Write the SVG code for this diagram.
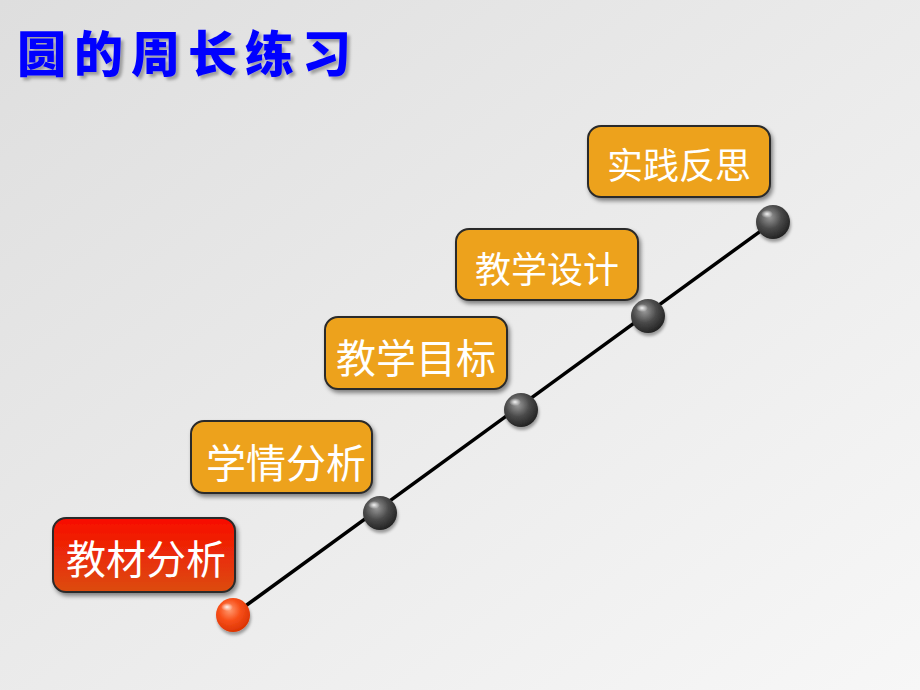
<svg xmlns="http://www.w3.org/2000/svg" width="920" height="690" viewBox="0 0 920 690">
<defs>
<linearGradient id="bg" x1="0" y1="0" x2="1" y2="1">
<stop offset="0" stop-color="#dedede"/>
<stop offset="1" stop-color="#f7f7f7"/>
</linearGradient>
<linearGradient id="red" x1="0" y1="0" x2="0" y2="1">
<stop offset="0" stop-color="#f80c00"/>
<stop offset="1" stop-color="#dc4c10"/>
</linearGradient>
<radialGradient id="gball" cx="0.4" cy="0.35" r="0.7">
<stop offset="0" stop-color="#9a9a9a"/>
<stop offset="0.5" stop-color="#4a4a4a"/>
<stop offset="1" stop-color="#1e1e1e"/>
</radialGradient>
<radialGradient id="oball" cx="0.4" cy="0.35" r="0.7">
<stop offset="0" stop-color="#ff9a70"/>
<stop offset="0.45" stop-color="#f8501a"/>
<stop offset="1" stop-color="#d83000"/>
</radialGradient>
<radialGradient id="hl" cx="0.5" cy="0.5" r="0.5">
<stop offset="0" stop-color="#ffffff" stop-opacity="0.9"/>
<stop offset="1" stop-color="#ffffff" stop-opacity="0"/>
</radialGradient>
<filter id="sh" x="-10%" y="-10%" width="130%" height="140%">
<feDropShadow dx="2" dy="3" stdDeviation="2" flood-color="#000" flood-opacity="0.45"/>
</filter>
<filter id="tsh" x="-5%" y="-10%" width="115%" height="140%">
<feDropShadow dx="3" dy="3" stdDeviation="1.5" flood-color="#000" flood-opacity="0.3"/>
</filter>
<filter id="bsh" x="-30%" y="-30%" width="170%" height="180%">
<feDropShadow dx="1" dy="3" stdDeviation="1.5" flood-color="#000" flood-opacity="0.35"/>
</filter>
</defs>
<style>
.box{stroke:#2a2a2a;stroke-width:2;filter:url(#sh)}
.org{fill:#eda21a}
.lbl{font-family:"Noto Sans CJK SC","Noto Sans",sans-serif;fill:#ffffff;text-anchor:middle;dominant-baseline:central}
.title{font-family:"Noto Sans CJK SC",sans-serif;font-weight:900;fill:#0000ff;font-size:49px;letter-spacing:8px;filter:url(#tsh)}
</style>
<rect width="920" height="690" fill="url(#bg)"/>
<text class="title" x="17" y="72">圆的周长练习</text>
<g id="connectors">
<line x1="233" y1="615" x2="773" y2="222" stroke="#000" stroke-width="3.5"/>
</g>
<g id="n1">
<rect class="box" x="53" y="518" width="182" height="74" rx="13" fill="url(#red)"/>
<text class="lbl" x="146" y="557" font-size="40">教材分析</text>
</g>
<g id="n2">
<rect class="box org" x="191" y="421" width="181" height="72" rx="13"/>
<text class="lbl" x="286" y="461" font-size="40">学情分析</text>
</g>
<g id="n3">
<rect class="box org" x="325" y="317" width="182" height="72" rx="13"/>
<text class="lbl" x="416" y="356" font-size="40">教学目标</text>
</g>
<g id="n4">
<rect class="box org" x="456" y="229" width="182" height="71" rx="13"/>
<text class="lbl" x="547" y="267" font-size="36">教学设计</text>
</g>
<g id="n5">
<rect class="box org" x="588" y="126" width="182" height="71" rx="13"/>
<text class="lbl" x="679" y="163" font-size="36">实践反思</text>
</g>
<g id="b1" filter="url(#bsh)">
<circle cx="233" cy="615" r="17" fill="url(#oball)"/>
<ellipse cx="227" cy="607" rx="6" ry="4" fill="url(#hl)"/>
</g>
<g id="b2" filter="url(#bsh)">
<circle cx="380" cy="513" r="17" fill="url(#gball)"/>
<ellipse cx="374" cy="505" rx="6" ry="4" fill="url(#hl)"/>
</g>
<g id="b3" filter="url(#bsh)">
<circle cx="521" cy="410" r="17" fill="url(#gball)"/>
<ellipse cx="515" cy="402" rx="6" ry="4" fill="url(#hl)"/>
</g>
<g id="b4" filter="url(#bsh)">
<circle cx="648" cy="316" r="17" fill="url(#gball)"/>
<ellipse cx="642" cy="308" rx="6" ry="4" fill="url(#hl)"/>
</g>
<g id="b5" filter="url(#bsh)">
<circle cx="773" cy="222" r="17" fill="url(#gball)"/>
<ellipse cx="767" cy="214" rx="6" ry="4" fill="url(#hl)"/>
</g>
</svg>
